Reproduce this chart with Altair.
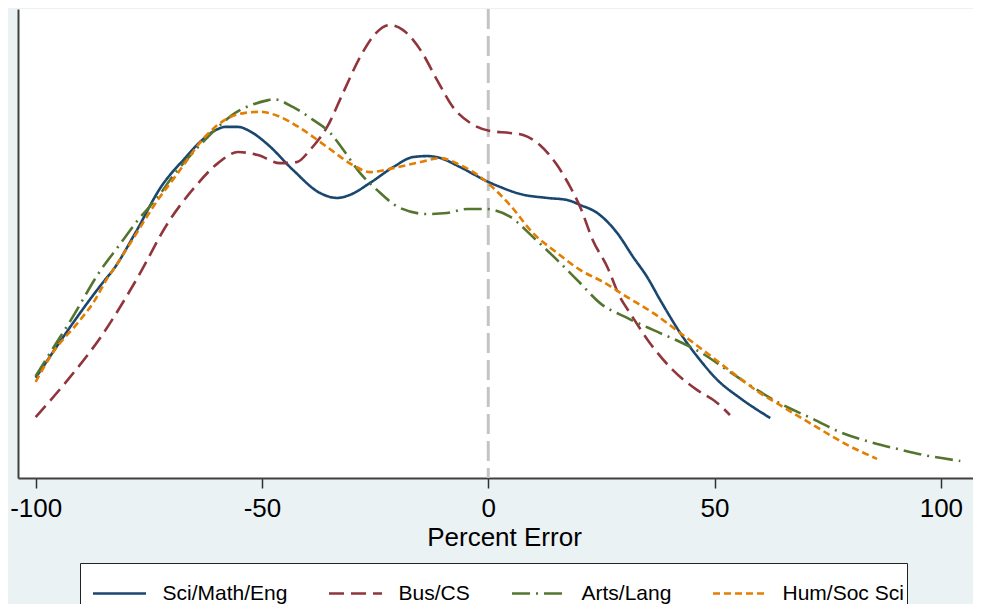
import altair as alt
import pandas as pd

SERIES = ["Sci/Math/Eng", "Bus/CS", "Arts/Lang", "Hum/Soc Sci"]
COLORS = ["#1a476f", "#90353b", "#55752f", "#e37e00"]
DASHES = [[1, 0], [15, 7], [18, 6, 2, 6], [7, 4]]

sci_x = [-100, -84.7, -82.9, -78.0, -72.3, -67.0, -63.7, -59.7, -58.2, -55.3, -52.4, -48.6, -43.1,
         -37.2, -33.4, -30.6, -26.1, -21.0, -16.6, -13.5, -10.6, -6.2, 0, 2.6, 7.0, 13.0, 17.4,
         20.3, 24.1, 28.5, 32.0, 35.1, 38.0, 43.0, 46.8, 50.6, 55.6, 62.3]
sci_y = [2.99, 5.91, 6.21, 7.31, 8.69, 9.55, 10.03, 10.42, 10.48, 10.48, 10.33, 9.94, 9.19,
         8.51, 8.36, 8.45, 8.81, 9.28, 9.58, 9.61, 9.55, 9.28, 8.84, 8.69, 8.48, 8.36, 8.30,
         8.15, 7.91, 7.31, 6.60, 6.00, 5.31, 4.21, 3.52, 2.93, 2.39, 1.79]

bus_x = [-100, -92.9, -85.6, -77.4, -70.8, -64.8, -59.7, -55.3, -50.9, -46.0, -42.3, -39.4, -35.6,
         -32.1, -28.3, -24.6, -21.7, -18.8, -15.0, -11.3, -7.8, -4.0, 0.4, 4.8, 7.7, 11.4, 15.2,
         18.1, 20.3, 23.1, 26.3, 29.1, 31.3, 35.7, 40.8, 46.1, 50.6, 53.4]
bus_y = [1.82, 2.93, 4.21, 6.00, 7.61, 8.69, 9.40, 9.73, 9.64, 9.40, 9.43, 9.79, 10.48,
         11.49, 12.57, 13.31, 13.52, 13.37, 12.78, 11.88, 11.07, 10.60, 10.36, 10.30, 10.24, 9.94, 9.34,
         8.69, 8.09, 7.10, 6.30, 5.40, 4.93, 4.03, 3.22, 2.63, 2.24, 1.88]

arts_x = [-100, -96.7, -92.2, -85.6, -81.8, -77.4, -73.0, -69.2, -64.1, -60.4, -55.9, -52.4, -48.6,
          -47.5, -43.1, -38.7, -34.9, -32.0, -28.3, -24.6, -19.5, -13.5, -9.1, -4.7, -0.3, 1.1, 4.8,
          9.9, 15.2, 20.3, 24.7, 30.7, 36.4, 42.4, 46.8, 52.8, 59.4, 65.1, 71.8, 77.7, 83.7, 90.3,
          96.1, 104.3]
arts_y = [3.04, 3.76, 4.72, 6.21, 6.90, 7.70, 8.39, 9.10, 9.88, 10.39, 10.90, 11.13, 11.28,
          11.31, 11.07, 10.69, 10.30, 9.79, 9.10, 8.60, 8.06, 7.88, 7.91, 8.03, 8.03, 8.00, 7.80,
          7.19, 6.51, 5.82, 5.22, 4.78, 4.42, 4.06, 3.76, 3.22, 2.63, 2.18, 1.76, 1.37, 1.10, 0.87,
          0.69, 0.51]

hum_x = [-100, -95.8, -90.7, -86.9, -84.4, -82.9, -79.6, -73.0, -68.6, -62.6, -58.2, -53.7, -50.4,
         -46.0, -41.6, -35.6, -29.9, -26.1, -21.0, -15.0, -10.6, -6.2, -1.8, 1.1, 4.8, 9.9, 15.2,
         20.3, 25.4, 30.7, 36.4, 42.4, 48.3, 54.1, 60.0, 64.4, 71.8, 79.3, 85.9]
hum_y = [2.87, 3.82, 4.63, 5.31, 5.91, 6.21, 6.90, 8.30, 9.10, 10.18, 10.69, 10.90, 10.93,
         10.78, 10.45, 9.88, 9.34, 9.13, 9.25, 9.43, 9.55, 9.34, 8.99, 8.66, 8.15, 7.31, 6.72,
         6.21, 5.85, 5.40, 4.93, 4.33, 3.73, 3.13, 2.54, 2.18, 1.58, 0.99, 0.57]

X_TICKS = [-100, -50, 0, 50, 100]

rows = []
for name, xs, ys in [(SERIES[0], sci_x, sci_y), (SERIES[1], bus_x, bus_y),
                     (SERIES[2], arts_x, arts_y), (SERIES[3], hum_x, hum_y)]:
    for i, (a, b) in enumerate(zip(xs, ys)):
        rows.append({"series": name, "err": a, "dens": b, "order": i})
df = pd.DataFrame(rows)

FONT = "Liberation Sans"
xscale = alt.Scale(domain=[-103.9, 107.1], nice=False, zero=False)
yscale = alt.Scale(domain=[0, 14], nice=False)

zero = alt.Chart(pd.DataFrame({"z": [0]})).mark_rule(
    color="#c4c4c4", strokeWidth=3, strokeDash=[20, 7]
).encode(x=alt.X("z:Q", scale=xscale))

lines = alt.Chart(df).mark_line(interpolate="monotone", strokeWidth=2.6).encode(
    x=alt.X("err:Q", scale=xscale, title="Percent Error",
            axis=alt.Axis(values=X_TICKS, grid=False, domain=True, domainColor="#404040",
                          domainWidth=2, tickColor="#303030", tickSize=10, tickWidth=1.5,
                          labelFontSize=26, labelFont=FONT, labelColor="black", labelPadding=7,
                          labelExpr="'' + datum.value",
                          labelFlush=False, titleFontSize=26, titleFont=FONT, titleColor="black",
                          titleFontWeight="normal", titleBaseline="alphabetic", titleY=67,
                          titleX=486, titleAnchor="start", titleAlign="center")),
    y=alt.Y("dens:Q", scale=yscale, title=None,
            axis=alt.Axis(labels=False, ticks=False, grid=False, domain=True,
                          domainColor="#404040", domainWidth=2)),
    color=alt.Color("series:N", scale=alt.Scale(domain=SERIES, range=COLORS), title=None,
                    sort=SERIES),
    strokeDash=alt.StrokeDash("series:N", scale=alt.Scale(domain=SERIES, range=DASHES), title=None,
                              sort=SERIES),
    order="order:Q",
)

chart = alt.layer(zero, lines).properties(
    width=955, height=469,
    autosize=alt.AutoSizeParams(type="none"),
    padding={"left": 10, "top": 1, "right": 0, "bottom": 126},
    background="#eaf2f3",
).configure_view(
    fill="white", stroke=None
).configure_legend(
    orient="none", legendX=62, legendY=554, direction="horizontal", columns=4,
    strokeColor="#222222", fillColor="white", padding=2.5, columnPadding=31,
    symbolOffset=9,
    labelFontSize=21, labelFont=FONT, labelColor="black", labelOffset=15,
    symbolType="stroke", symbolSize=2809, symbolStrokeWidth=2.5,
)

chart.save("out.html", embed_options={"renderer": "svg", "actions": False})
